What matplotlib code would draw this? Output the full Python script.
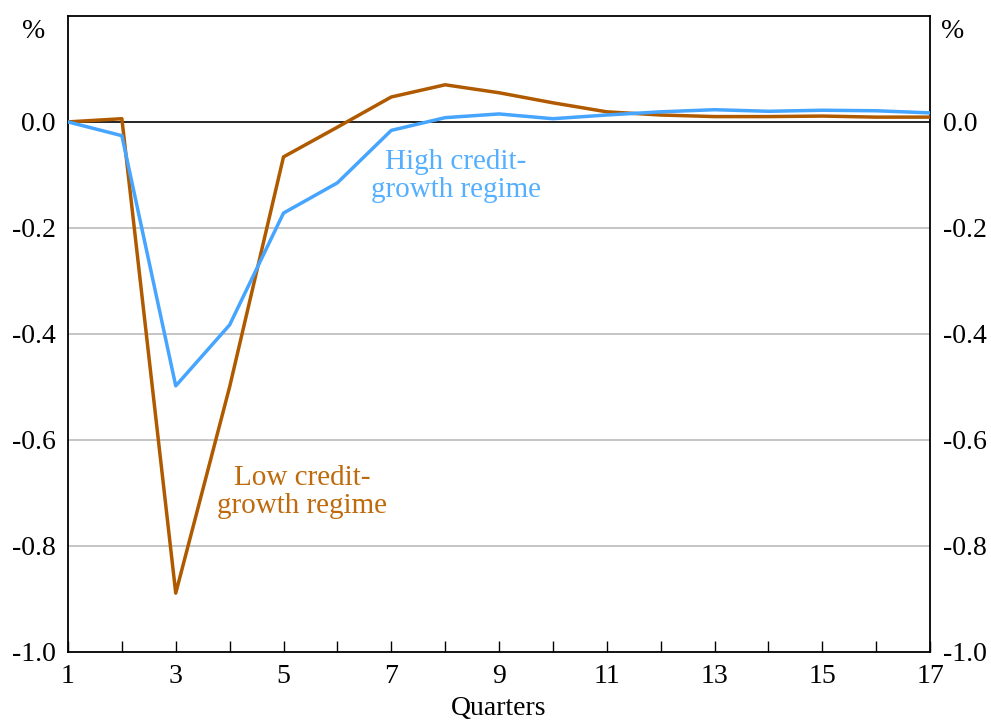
import matplotlib.pyplot as plt
import numpy as np

plt.rcParams['font.family'] = ['Liberation Serif', 'DejaVu Serif']

quarters = list(range(1, 18))
low_credit = [0.0, 0.006, -0.889, -0.50, -0.066, -0.01, 0.047, 0.070, 0.055,
              0.036, 0.019, 0.013, 0.010, 0.010, 0.011, 0.009, 0.009]
high_credit = [0.0, -0.026, -0.498, -0.383, -0.172, -0.115, -0.016, 0.008, 0.015,
               0.006, 0.013, 0.019, 0.023, 0.020, 0.022, 0.021, 0.017]
yticks = [0.0, -0.2, -0.4, -0.6, -0.8, -1.0]

brown = '#B05A00'
blue = '#45A5FF'

fig = plt.figure(figsize=(9.91, 7.22), dpi=100)
ax = fig.add_axes([0.0686, 0.097, 0.8699, 0.881])

for y in [-0.2, -0.4, -0.6, -0.8]:
    ax.axhline(y, color='#BBBBBB', lw=1.2, zorder=1)
ax.axhline(0, color='black', lw=1.2, zorder=2)

ax.plot(quarters, low_credit, color=brown, lw=2.5, zorder=3)
ax.plot(quarters, high_credit, color=blue, lw=2.5, zorder=4)

ax.set_xlim(1, 17)
ax.set_ylim(-1.0, 0.2)
ax.set_xticks(range(1, 18, 2))
ax.set_xticks(range(1, 18), minor=True)
ax.set_yticks(yticks)
ax.set_yticklabels([f'{v:.1f}' for v in yticks])
ax.tick_params(axis='x', which='both', direction='in', length=8, width=1,
               labelsize=20, pad=9)
ax.tick_params(axis='y', length=0, labelsize=20, pad=9,
               labelleft=True, labelright=True)
for s in ax.spines.values():
    s.set_linewidth(1.3)

ax.set_xlabel('Quarters', fontsize=20, labelpad=5)
ax.text(-0.026, 0.17, '%', transform=ax.get_yaxis_transform(), ha='right',
        va='center', fontsize=20)
ax.text(1.013, 0.17, '%', transform=ax.get_yaxis_transform(), ha='left',
        va='center', fontsize=20)

ax.text(8.2, -0.102, 'High credit-\ngrowth regime', color='#55AFFF', fontsize=21,
        ha='center', va='center', linespacing=1.1)
ax.text(5.34, -0.698, 'Low credit-\ngrowth regime', color='#BF6A0C', fontsize=21,
        ha='center', va='center', linespacing=1.1)

fig.savefig('out.png', dpi=100)
